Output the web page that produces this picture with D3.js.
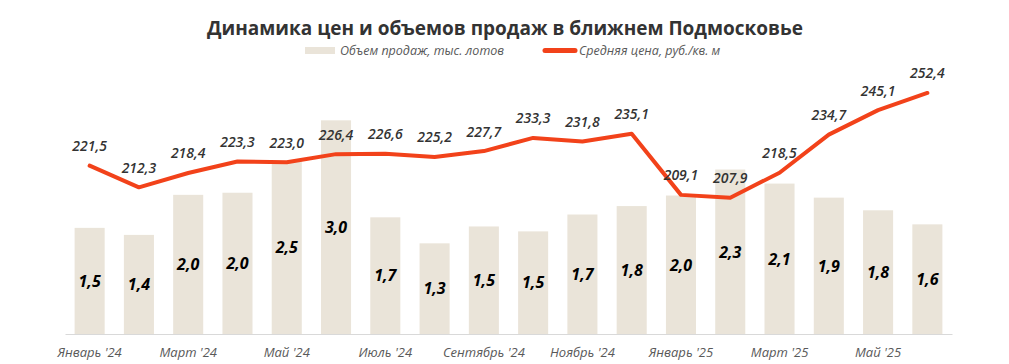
<!DOCTYPE html>
<html>
<head>
<meta charset="utf-8">
<script src="https://cdn.jsdelivr.net/npm/d3@7"></script>
<style>
  html, body { margin: 0; padding: 0; background: #fff; }
  svg { display: block; font-family: "Open Sans", "Noto Sans", sans-serif; }
</style>
</head>
<body>
<svg id="chart" width="1009" height="364"></svg>
<script>
const categories = ["Январь '24","Февраль '24","Март '24","Апрель '24","Май '24","Июнь '24","Июль '24","Август '24","Сентябрь '24","Октябрь '24","Ноябрь '24","Декабрь '24","Январь '25","Февраль '25","Март '25","Апрель '25","Май '25","Июнь '25"];
const volumes = [1.51,1.41,1.98,2.01,2.46,3.04,1.66,1.29,1.53,1.46,1.70,1.82,1.97,2.34,2.14,1.94,1.76,1.56];
const prices = [221.5,212.3,218.4,223.3,223.0,226.4,226.6,225.2,227.7,233.3,231.8,235.1,209.1,207.9,218.5,234.7,245.1,252.4];
const tickLabels = ["Январь '24","Март '24","Май '24","Июль '24","Сентябрь '24","Ноябрь '24","Январь '25","Март '25","Май '25"];
const titleText = "Динамика цен и объемов продаж в ближнем Подмосковье";
const legendBars = "Объем продаж, тыс. лотов";
const legendLine = "Средняя цена, руб./кв. м";

(function () {
const svg = d3.select("#chart");
const plotLeft = 65, plotRight = 952, plotTop = 88, plotBottom = 334;
const fmt = v => d3.format(".1f")(v).replace(".", ",");

const x = d3.scaleBand().domain(categories).range([plotLeft, plotRight]).paddingInner(0.39).paddingOuter(0.195);
const y1 = d3.scaleLinear().domain([0, 3.5]).range([plotBottom, plotTop]);
const y2 = d3.scaleLinear().domain([150, 254.5]).range([plotBottom, plotTop]);

const barColor = "#eae4d9", lineColor = "#f2421a";

// title
svg.append("text").attr("x", 505).attr("y", 35).attr("text-anchor", "middle")
  .attr("font-size", 19).attr("font-weight", 700).attr("fill", "#333")
  .text(titleText);

// legend
const lg = svg.append("g");
lg.append("rect").attr("x", 305).attr("y", 47).attr("width", 30).attr("height", 7).attr("fill", barColor);
lg.append("text").attr("x", 340).attr("y", 55).attr("font-size", 12.5).attr("font-style", "italic").attr("fill", "#595959").text(legendBars);
lg.append("line").attr("x1", 545).attr("x2", 575).attr("y1", 50.5).attr("y2", 50.5)
  .attr("stroke", lineColor).attr("stroke-width", 5).attr("stroke-linecap", "round");
lg.append("text").attr("x", 579).attr("y", 55).attr("font-size", 12.5).attr("font-style", "italic").attr("fill", "#595959").text(legendLine);

// bars
const data = categories.map((c, i) => ({c, v: volumes[i], p: prices[i]}));
svg.append("g").selectAll("rect").data(data).join("rect")
  .attr("x", d => x(d.c)).attr("width", x.bandwidth())
  .attr("y", d => y1(d.v)).attr("height", d => y1(0) - y1(d.v))
  .attr("fill", barColor);

// axis
const axis = d3.axisBottom(x).tickValues(tickLabels).tickSize(0).tickSizeOuter(0).tickPadding(14);
const ag = svg.append("g").attr("transform", `translate(0,${plotBottom})`).call(axis);
ag.select(".domain").attr("stroke", "#d9d9d9").attr("stroke-width", 1.2);
ag.selectAll("text").attr("font-size", 13).attr("font-style", "italic").attr("fill", "#595959")
  .attr("font-family", "'Open Sans', sans-serif");

// bar labels
svg.append("g").selectAll("text").data(data).join("text")
  .attr("x", d => x(d.c) + x.bandwidth() / 2)
  .attr("y", d => (y1(d.v) + y1(0)) / 2)
  .attr("dy", "0.36em").attr("text-anchor", "middle")
  .attr("font-size", 16).attr("font-weight", 700).attr("font-style", "italic").attr("fill", "#000")
  .text(d => fmt(d.v));

// line
const line = d3.line().x(d => x(d.c) + x.bandwidth() / 2).y(d => y2(d.p));
svg.append("path").datum(data).attr("d", line).attr("fill", "none")
  .attr("stroke", lineColor).attr("stroke-width", 4).attr("stroke-linejoin", "round").attr("stroke-linecap", "round");

// price labels
svg.append("g").selectAll("text").data(data).join("text")
  .attr("x", d => x(d.c) + x.bandwidth() / 2)
  .attr("y", d => y2(d.p) - 14.5)
  .attr("text-anchor", "middle")
  .attr("font-size", 14).attr("font-weight", 600).attr("font-style", "italic").attr("fill", "#333")
  .text(d => fmt(d.p));
})();
</script>
</body>
</html>
